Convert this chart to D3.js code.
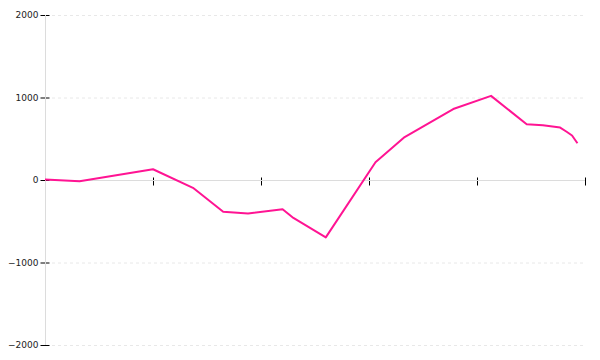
<!DOCTYPE html>
<html>
<head>
<meta charset="utf-8">
<script src="https://cdn.jsdelivr.net/npm/d3@7"></script>
<style>
  html, body { margin: 0; padding: 0; background: #fff; }
  svg { display: block; }
</style>
</head>
<body>
<svg id="chart" width="600" height="360"></svg>
<script>
// Data
const xValues = [0, 3.2, 10, 13.7, 16.5, 18.8, 22, 23, 26, 30.6, 33.3, 37.8, 41.3, 44.6, 46.1, 47.7, 48.3, 48.8, 49.3];
const yValues = [5, -15, 130, -95, -385, -405, -355, -460, -695, 215, 520, 860, 1020, 675, 665, 635, 585, 540, 445];
const xTicks = [0, 10, 20, 30, 40, 50];
const yTicks = [-2000, -1000, 0, 1000, 2000];

const data = xValues.map((x, i) => ({ x, y: yValues[i] }));

const svg = d3.select("#chart");
const x = d3.scaleLinear().domain([0, 50]).range([45, 585]);
const y = d3.scaleLinear().domain([-2000, 2000]).range([345, 15]);

// Gridlines
svg.append("g").selectAll("line")
  .data(yTicks.filter(d => d !== 0))
  .join("line")
  .attr("x1", 52).attr("x2", 585)
  .attr("y1", d => y(d) + 0.5).attr("y2", d => y(d) + 0.5)
  .attr("stroke", "#e8e8e8")
  .attr("stroke-dasharray", "3,3");

// Y axis
const yAxis = svg.append("g")
  .attr("transform", `translate(${x(0) + 0.5},0)`)
  .call(d3.axisLeft(y).tickValues(yTicks).tickSize(5).tickPadding(2).tickFormat(d3.format("d")));
yAxis.select(".domain").remove();
yAxis.selectAll(".tick line").attr("x1", -5).attr("x2", 4).attr("stroke", "#000");
yAxis.selectAll(".tick text")
  .attr("font-family", "DejaVu Sans, sans-serif")
  .attr("font-size", 9)
  .attr("fill", "#222");
yAxis.append("line")
  .attr("x1", 0).attr("x2", 0)
  .attr("y1", y(2000)).attr("y2", y(-2000))
  .attr("stroke", "#dcdcdc");

// X axis at y=0
const xAxis = svg.append("g")
  .attr("transform", `translate(0,${y(0) + 0.5})`)
  .call(d3.axisBottom(x).tickValues(xTicks).tickSize(5).tickFormat(""));
xAxis.select(".domain").remove();
xAxis.selectAll(".tick line").attr("y1", -3).attr("y2", 5).attr("stroke", "#000");
xAxis.insert("line", ":first-child")
  .attr("x1", x(0)).attr("x2", x(50))
  .attr("y1", 0).attr("y2", 0)
  .attr("stroke", "#dcdcdc");
xAxis.selectAll(".tick").raise();
xAxis.select("line").lower();
// keep gray axis line drawn over tick centers like reference
xAxis.append("line")
  .attr("x1", x(0)).attr("x2", x(50))
  .attr("y1", 0).attr("y2", 0)
  .attr("stroke", "#dcdcdc");
yAxis.raise();

// Line
const line = d3.line().x(d => x(d.x)).y(d => y(d.y));
svg.append("path")
  .datum(data)
  .attr("d", line)
  .attr("fill", "none")
  .attr("stroke", "#ff1493")
  .attr("stroke-width", 2)
  .attr("stroke-linejoin", "round");
</script>
</body>
</html>
